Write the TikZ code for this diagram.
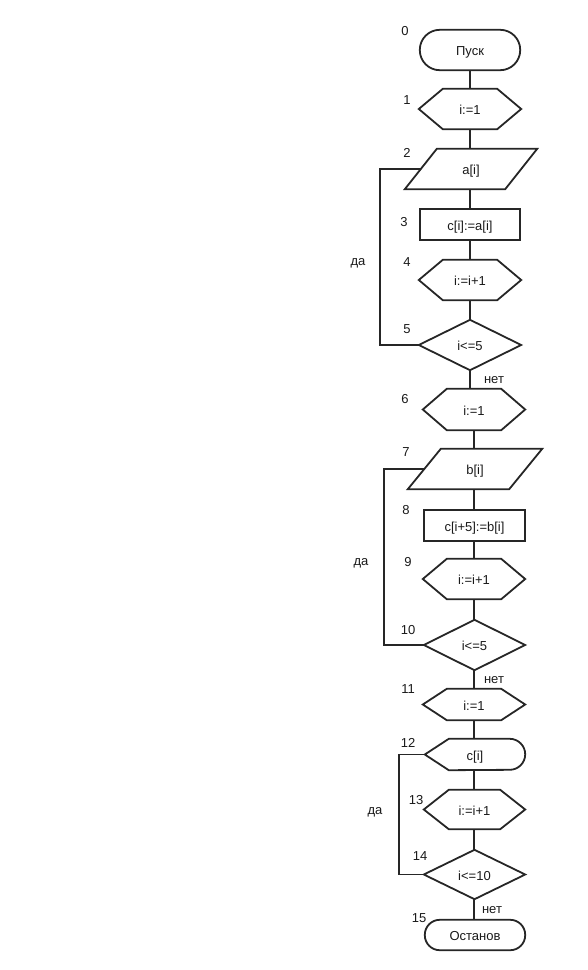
\documentclass[tikz,border=0pt]{standalone}
\usepackage{fontspec}
\setmainfont{Liberation Sans}
\begin{document}
\begin{tikzpicture}[x=1pt,y=-1pt,
  every node/.style={font=\fontsize{13}{15}\selectfont, text=black!90},
  blk/.style={draw=none, inner sep=0pt, shape=rectangle, text height=11pt, text depth=-1pt},
  outl/.style={draw=black!85, line width=1.8pt, line join=miter},
  conn/.style={draw=black!85, line width=1.8pt},
  num/.style={inner sep=0pt, anchor=center},
]
\useasboundingbox (0,0) rectangle (588,970);

% ---------- section 1 ----------
\node[blk, minimum width=100, minimum height=40] (t0) at (470,50) {Пуск};
\node[blk, minimum width=102, minimum height=40] (h1) at (470,109) {i:=1};
\node[blk, minimum width=132, minimum height=40] (p2) at (471,169) {a[i]};
\node[blk, minimum width=100, minimum height=31] (r3) at (470,224.5) {c[i]:=a[i]};
\node[blk, minimum width=102, minimum height=40] (h4) at (470,280) {i:=i+1};
\node[blk, minimum width=102, minimum height=50] (d5) at (470,345) {i<=5};

% ---------- section 2 ----------
\node[blk, minimum width=102, minimum height=41] (h6) at (474,409.5) {i:=1};
\node[blk, minimum width=134, minimum height=40] (p7) at (475,469) {b[i]};
\node[blk, minimum width=101, minimum height=31] (r8) at (474.5,525.5) {c[i+5]:=b[i]};
\node[blk, minimum width=102, minimum height=40] (h9) at (474,579) {i:=i+1};
\node[blk, minimum width=101, minimum height=50] (d10) at (474.5,645) {i<=5};

% ---------- section 3 ----------
\node[blk, minimum width=102, minimum height=31] (h11) at (474,704.5) {i:=1};
\node[blk, minimum width=100, minimum height=31] (s12) at (475,754.5) {c[i]};
\node[blk, minimum width=101, minimum height=39] (h13) at (474.5,809.5) {i:=i+1};
\node[blk, minimum width=101, minimum height=49] (d14) at (474.5,874.5) {i<=10};
\node[blk, minimum width=100, minimum height=30] (t15) at (475,935) {Останов};

% ---------- outlines ----------
% terminals
\draw[outl, rounded corners=20pt] (t0.north west) rectangle (t0.south east);
\draw[outl, rounded corners=15pt] (t15.north west) rectangle (t15.south east);
% hexagons
\foreach \h/\s in {h1/24, h4/24, h6/24, h9/24, h11/24, h13/25}{
  \draw[outl] (\h.west) -- ([xshift=\s]\h.north west) -- ([xshift=-\s]\h.north east)
     -- (\h.east) -- ([xshift=-\s]\h.south east) -- ([xshift=\s]\h.south west) -- cycle;
}
% parallelograms
\draw[outl] ([xshift=32]p2.north west) -- (p2.north east) -- ([xshift=-32]p2.south east) -- (p2.south west) -- cycle;
\draw[outl] ([xshift=33]p7.north west) -- (p7.north east) -- ([xshift=-33]p7.south east) -- (p7.south west) -- cycle;
% rectangles
\draw[outl] (r3.north west) rectangle (r3.south east);
\draw[outl] (r8.north west) rectangle (r8.south east);
% diamonds
\foreach \d in {d5, d10, d14}{
  \draw[outl] (\d.west) -- (\d.north) -- (\d.east) -- (\d.south) -- cycle;
}
% display (output) shape
\draw[outl] (s12.west) -- ([xshift=24]s12.north west) -- ([xshift=-15.5]s12.north east)
   arc[start angle=-90, end angle=90, radius=15.5] -- ([xshift=24]s12.south west) -- cycle;

% ---------- connectors ----------
\draw[conn] (t0.south) -- (t0.south |- h1.north);
\draw[conn] (h1.south) -- (h1.south |- p2.north);
\draw[conn] (p2.south -| r3.north) -- (r3.north);
\draw[conn] (r3.south) -- (r3.south |- h4.north);
\draw[conn] (h4.south) -- (h4.south |- d5.north);
\draw[conn] (d5.south) -- (d5.south |- h6.north);
\draw[conn] (h6.south) -- (h6.south |- p7.north);
\draw[conn] (h6.south |- p7.south) -- (h6.south |- r8.north);
\draw[conn] (h6.south |- r8.south) -- (h6.south |- h9.north);
\draw[conn] (h6.south |- h9.south) -- (h6.south |- d10.north);
\draw[conn] (h6.south |- d10.south) -- (h6.south |- h11.north);
\draw[conn] (h11.south) -- (h11.south |- s12.north);
\draw[conn] (h11.south |- s12.south) -- (h11.south |- h13.north);
\draw[conn] (h11.south |- h13.south) -- (h11.south |- d14.north);
\draw[conn] (h11.south |- d14.south) -- (h11.south |- t15.north);

% loops
\coordinate (l1b) at (380,345);
\coordinate (l1t) at (380,169);
\draw[conn] (d5.west) -- (l1b) -- (l1t) -- ([xshift=16]p2.west);
\coordinate (l2b) at (384,645);
\coordinate (l2t) at (384,469);
\draw[conn] (d10.west) -- (l2b) -- (l2t) -- ([xshift=16.5]p7.west);
\coordinate (l3b) at (399,874.5);
\coordinate (l3t) at (399,754.5);
\draw[conn] (d14.west) -- (l3b) -- (l3t) -- (s12.west);

% ---------- labels ----------
\node[num] (n0) at (405,31) {0};
\node[num] (n1) at (407,100) {1};
\node[num] (n2) at (407,153) {2};
\node[num] (n3) at (404,222) {3};
\node[num] (n4) at (407,262) {4};
\node[num] (n5) at (407,329) {5};
\node[num] (n6) at (405,399) {6};
\node[num] (n7) at (406,452) {7};
\node[num] (n8) at (406,510) {8};
\node[num] (n9) at (408,562) {9};
\node[num] (n10) at (408,630) {10};
\node[num] (n11) at (408,689) {11};
\node[num] (n12) at (408,743) {12};
\node[num] (n13) at (416,800) {13};
\node[num] (n14) at (420,856) {14};
\node[num] (n15) at (419,918) {15};
\node[num] (no1) at (494,380) {нет};
\node[num] (no2) at (494,680) {нет};
\node[num] (no3) at (492,910) {нет};
\node[num] (y1) at (358,263) {да};
\node[num] (y2) at (361,563) {да};
\node[num] (y3) at (375,812) {да};
\end{tikzpicture}
\end{document}
